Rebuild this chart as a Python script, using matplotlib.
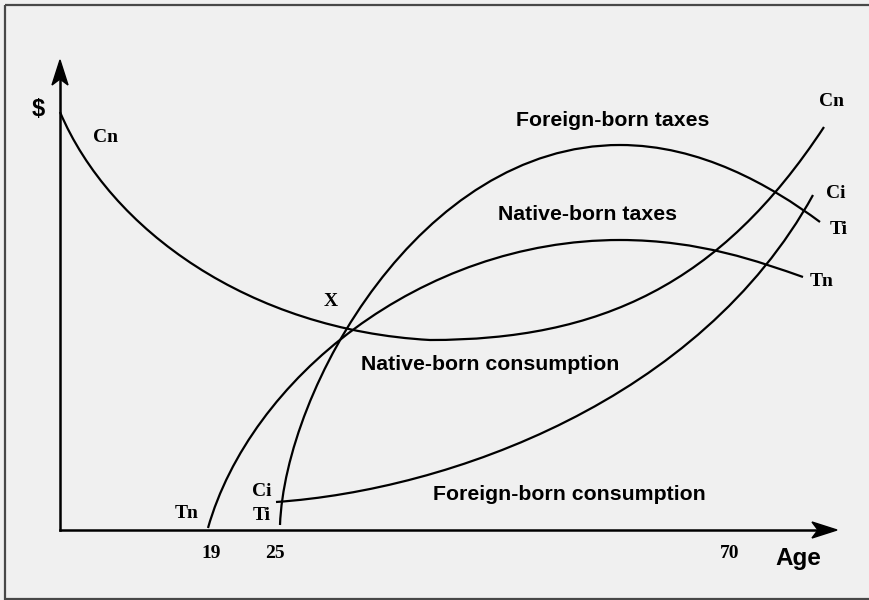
#%%
# Consumption vs. taxes over the life cycle: native-born vs. foreign-born
#
import matplotlib as mpl
import matplotlib.pyplot as plt
from matplotlib.path import Path
from matplotlib.patches import PathPatch, Polygon, Rectangle

mpl.rcParams['font.family'] = 'Liberation Sans'

#
# Curve data (diagram units, y grows downward), cubic Bezier control points
#
cn_x = [60, 110, 250, 430, 600, 720, 824]      # native-born consumption
cn_y = [112, 230, 330, 340, 340, 285, 127]
tn_x = [208, 250, 420, 620, 700, 760, 803]     # native-born taxes
tn_y = [528, 380, 240, 240, 240, 262, 277]
ti_x = [280, 285, 420, 620, 700, 770, 820]     # foreign-born taxes
ti_y = [525, 390, 145, 145, 145, 185, 222]
ci_x = [276, 450, 700, 813]                    # foreign-born consumption
ci_y = [502, 490, 400, 195]

curves = [(cn_x, cn_y), (tn_x, tn_y), (ti_x, ti_y), (ci_x, ci_y)]

# curve labels (serif)
serif_labels = ['Cn', 'Cn', 'Ci', 'Ti', 'Tn', 'X', 'Tn', 'Ci', 'Ti']
serif_x = [106, 831, 836, 839, 822, 331, 187, 262, 262]
serif_y = [137, 102, 193, 230, 282, 301, 513, 491, 515]

# age ticks
age_ticks = ['19', '25', '70']
age_x = [211, 275, 730]
age_y = 553

# area titles (sans)
titles = ['Foreign-born taxes', 'Native-born taxes',
          'Native-born consumption', 'Foreign-born consumption']
title_x = [613, 588, 490, 569]
title_y = [120, 214, 364, 495]


def bezier(xs, ys):
    ''' Path of chained cubic Bezier segments. '''
    verts = list(zip(xs, ys))
    codes = [Path.MOVETO] + [Path.CURVE4] * (len(verts) - 1)
    return Path(verts, codes)


def arrow_head(ax, tip, direction, length=25, half=8, notch=6):
    ''' Stealth-like arrow head drawn at tip. '''
    tx, ty = tip
    dx, dy = direction
    px, py = -dy, dx
    pts = [(tx, ty),
           (tx - dx * length + px * half, ty - dy * length + py * half),
           (tx - dx * (length - notch), ty - dy * (length - notch)),
           (tx - dx * length - px * half, ty - dy * length - py * half)]
    ax.add_patch(Polygon(pts, closed=True, color='black', zorder=3))


fig = plt.figure(figsize=(8.69, 6.0), dpi=100)
fig.patch.set_facecolor('#f0f0f0')
ax = fig.add_axes([0, 0, 1, 1])
ax.set_xlim(0, 869)
ax.set_ylim(600, 0)
ax.axis('off')

# frame
ax.add_patch(Rectangle((4.5, 4.5), 870, 594, fill=False,
                       edgecolor='#484848', lw=1.6))

# axes
ax.plot([60, 60], [530, 70], color='black', lw=1.8)
ax.plot([60, 825], [530, 530], color='black', lw=1.8)
arrow_head(ax, (60, 60), (0, -1))
arrow_head(ax, (837, 530), (1, 0))

for xs, ys in curves:
    ax.add_patch(PathPatch(bezier(xs, ys), fill=False,
                           edgecolor='black', lw=1.6))

for s, x, y in zip(serif_labels, serif_x, serif_y):
    ax.text(x, y, s, ha='center', va='center', fontsize=14,
            fontweight='bold', family='Liberation Serif')

for s, x in zip(age_ticks, age_x):
    ax.text(x, age_y, s, ha='center', va='center', fontsize=14,
            fontweight='bold', family='Liberation Serif')

for s, x, y in zip(titles, title_x, title_y):
    ax.text(x, y, s, ha='center', va='center', fontsize=15.3,
            fontweight='bold')

ax.text(38, 110, '$', ha='center', va='center', fontsize=17,
        fontweight='bold')
ax.text(798, 558, 'Age', ha='center', va='center', fontsize=17.5,
        fontweight='bold')

fig.savefig('out.png', dpi=100, facecolor=fig.get_facecolor())
